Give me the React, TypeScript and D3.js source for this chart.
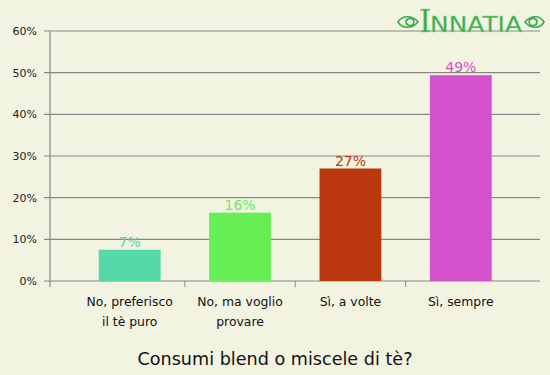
import React from "react";
import * as d3 from "d3";

const categories: string[][] = [
  ["No, preferisco", "il tè puro"],
  ["No, ma voglio", "provare"],
  ["Sì, a volte"],
  ["Sì, sempre"],
];
const values: number[] = [7.5, 16.4, 27.0, 49.4];
const valueLabels: string[] = ["7%", "16%", "27%", "49%"];
const colors: string[] = ["#55d8a8", "#66ee55", "#bb380e", "#d352cc"];
const yTicks: number[] = [0, 10, 20, 30, 40, 50, 60];
const title = "Consumi blend o miscele di tè?";

const W = 550;
const H = 375;
const left = 50;
const right = 540;
const top = 31;
const bottom = 281;
const font = "'DejaVu Sans', Verdana, sans-serif";

export default function App() {
  React.useEffect(() => {
    document.body.style.margin = "0";
  }, []);
  const x = d3
    .scaleBand<number>()
    .domain(d3.range(categories.length))
    .range([74.5, 516])
    .paddingInner(0.44)
    .paddingOuter(0.22);
  const y = d3.scaleLinear().domain([0, 60]).range([bottom, top]);
  const step = x.step();
  const bandStart = (i: number) => (x(i) as number) - step * x.paddingInner() / 2;
  const green = "#3aab4a";

  return (
    <svg width={W} height={H} style={{ display: "block", background: "#f3f3e2" }}>
      <rect x={0} y={0} width={W} height={H} fill="#f3f3e2" />
      {yTicks.map((t) => (
        <g key={t}>
          <line x1={left - 6} x2={right} y1={y(t)} y2={y(t)} stroke="#888" strokeWidth={1.2} />
          <text
            x={left - 13}
            y={y(t) + 4}
            textAnchor="end"
            fontFamily={font}
            fontSize={11}
            fill="#222"
          >
            {t}%
          </text>
        </g>
      ))}
      <line x1={left} x2={left} y1={top} y2={bottom + 6} stroke="#888" strokeWidth={1.2} />
      {d3.range(1, categories.length).map((i) => (
        <line
          key={i}
          x1={bandStart(i)}
          x2={bandStart(i)}
          y1={bottom}
          y2={bottom + 6}
          stroke="#888"
          strokeWidth={1}
        />
      ))}
      {values.map((v, i) => (
        <g key={i}>
          <rect
            x={x(i)}
            y={y(v)}
            width={x.bandwidth()}
            height={bottom - y(v)}
            fill={colors[i]}
          />
          <text
            x={(x(i) as number) + x.bandwidth() / 2}
            y={y(v) - 3}
            textAnchor="middle"
            fontFamily={font}
            fontSize={14}
            fill={colors[i]}
          >
            {valueLabels[i]}
          </text>
        </g>
      ))}
      {categories.map((lines, i) => (
        <text
          key={i}
          textAnchor="middle"
          fontFamily={font}
          fontSize={12.4}
          fill="#111"
        >
          {lines.map((l, j) => (
            <tspan key={j} x={(x(i) as number) + x.bandwidth() / 2} y={306 + j * 20}>
              {l}
            </tspan>
          ))}
        </text>
      ))}
      <text x={275} y={365} textAnchor="middle" fontFamily={font} fontSize={17.6} fill="#111">
        {title}
      </text>
      <g>
        <text
          x={419}
          y={32}
          fontFamily="'DejaVu Serif', serif"
          fontSize={31}
          fill={green}
          stroke="#8fd49a"
          strokeWidth={0.5}
        >
          I
        </text>
        <text
          x={430}
          y={32}
          fontFamily="'DejaVu Sans', sans-serif"
          fontSize={22}
          fill={green}
          textLength={92}
          lengthAdjust="spacingAndGlyphs"
          stroke="#8fd49a"
          strokeWidth={0.4}
        >
          NNATIA
        </text>
        <path
          d="M418,22 C412,15 402,15 398,22 C402,29 412,29 418,22 Z M414,22 a4,4 0 1,1 -7,-3 M414,22 a4,4 0 1,0 -7,3"
          fill="none"
          stroke={green}
          strokeWidth={1.6}
        />
        <path
          d="M525,22 C531,15 540,15 544,22 C540,29 531,29 525,22 Z M529,22 a4,4 0 1,0 7,-3 M529,22 a4,4 0 1,1 7,3"
          fill="none"
          stroke={green}
          strokeWidth={1.6}
        />
      </g>
    </svg>
  );
}
